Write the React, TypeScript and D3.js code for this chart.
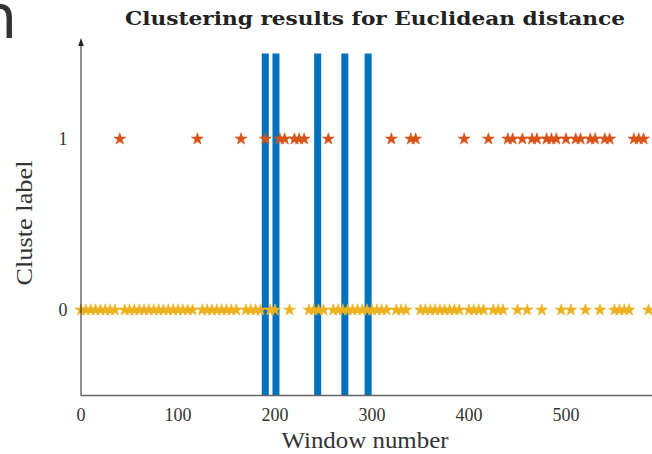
import React from 'react';
import * as d3 from 'd3';

const width = 652;
const height = 454;

// every 5th window is plotted, starting at window 0
const windowStep = 5;
// cluster label of each plotted window (10 per line = 50 windows per line)
const clusterLabels = [
  0, 0, 0, 0, 0, 0, 0, 0, 1, 0, // 0-45
  0, 0, 0, 0, 0, 0, 0, 0, 0, 0, // 50-95
  0, 0, 0, 0, 1, 0, 0, 0, 0, 0, // 100-145
  0, 0, 0, 1, 0, 0, 0, 0, 1, 0, // 150-195
  0, 1, 1, 0, 1, 1, 1, 0, 0, 0, // 200-245
  0, 1, 0, 0, 0, 0, 0, 0, 0, 0, // 250-295
  0, 0, 0, 0, 1, 0, 0, 0, 1, 1, // 300-345
  0, 0, 0, 0, 0, 0, 0, 0, 0, 1, // 350-395
  0, 0, 0, 0, 1, 0, 0, 0, 1, 1, // 400-445
  0, 1, 0, 1, 1, 0, 1, 1, 1, 0, // 450-495
  1, 0, 1, 1, 0, 1, 1, 0, 1, 1, // 500-545
  0, 0, 0, 0, 1, 1, 1, 0, // 550-585
];
// true change points, drawn as bars
const changePoints = [190, 201, 244, 272, 296];
const xTicks = [0, 100, 200, 300, 400, 500];
const yTicks = [0, 1];

const labelColors = ['#EDB120', '#D95319'];
const barColor = '#0072BD';
const serif = '"Liberation Serif", "DejaVu Serif", serif';

export default function App() {
  const x = d3.scaleLinear().domain([0, 600]).range([81, 663]);
  const y = d3.scaleLinear().domain([-0.5, 1.5]).range([395.5, 53.5]);
  const star = d3.symbol().type(d3.symbolStar).size(44)() as string;

  const points = clusterLabels.map((label, i) => ({ win: i * windowStep, label }));
  const x0 = x(0);
  const yBottom = y(-0.5);

  return (
    <svg width={width} height={height}
      style={{ position: 'absolute', left: 0, top: 0, background: '#fff' }}>
      {/* stray glyph from the page the figure was cut from */}
      <text x={-21} y={38} fontFamily='"DejaVu Sans", sans-serif' fontSize={60} fill="#333">n</text>

      <text x={375} y={25} textAnchor="middle" fontFamily='"DejaVu Serif", serif'
        fontWeight="bold" fontSize={19} textLength={500} lengthAdjust="spacingAndGlyphs" fill="#222">
        Clustering results for Euclidean distance
      </text>

      {changePoints.map((c) => (
        <rect key={c} x={x(c) - 3.5} y={y(1.5)} width={7} height={y(-0.5) - y(1.5)} fill={barColor} />
      ))}

      {points.map((p) => (
        <path key={p.win} d={star} transform={`translate(${x(p.win)},${y(p.label)})`}
          fill={labelColors[p.label]} stroke={labelColors[p.label]} strokeWidth={0.6} />
      ))}

      {/* axes */}
      <line x1={x0} x2={width + 10} y1={yBottom} y2={yBottom} stroke="#666" strokeWidth={1.4} />
      <line x1={x0} x2={x0} y1={yBottom} y2={44} stroke="#222" strokeWidth={1} />
      <path d={`M${x0},38 L${x0 - 2.8},46 L${x0 + 2.8},46 Z`} fill="#222" />

      {xTicks.map((t) => (
        <text key={t} x={x(t)} y={421} textAnchor="middle" fontFamily={serif}
          fontSize={18} fill="#333">{t}</text>
      ))}
      {yTicks.map((t) => (
        <text key={t} x={63} y={y(t) + 6} textAnchor="middle" fontFamily={serif}
          fontSize={18} fill="#333">{t}</text>
      ))}

      <text x={365} y={448} textAnchor="middle" fontFamily={serif} fontSize={23}
        textLength={167} lengthAdjust="spacingAndGlyphs" fill="#333">Window number</text>
      <text transform="translate(32,223) rotate(-90)" textAnchor="middle" fontFamily={serif}
        fontSize={23} textLength={125} lengthAdjust="spacingAndGlyphs" fill="#333">Cluste label</text>
    </svg>
  );
}
